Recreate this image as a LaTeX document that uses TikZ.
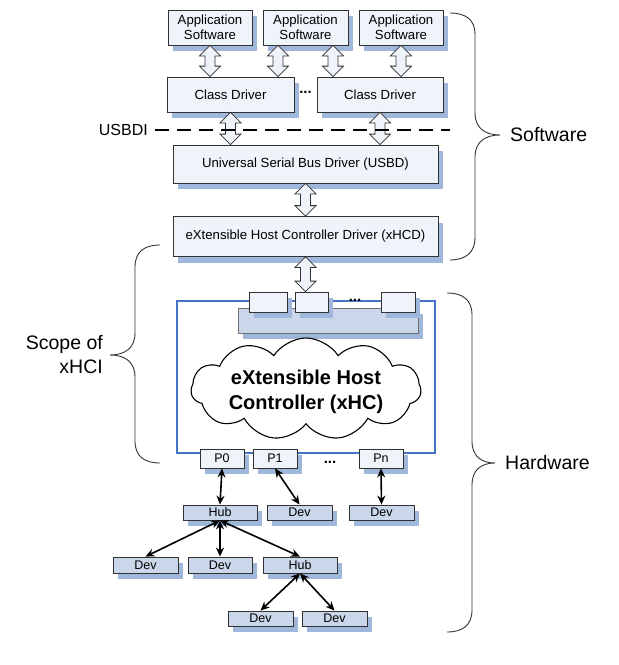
\documentclass[tikz,border=0pt]{standalone}
\usepackage{fontspec}
\setmainfont{Liberation Sans}
\usetikzlibrary{arrows.meta,shapes.symbols,shadows,calc}
\definecolor{boxc}{RGB}{239,243,250}
\definecolor{shd}{RGB}{160,183,220}
\definecolor{devc}{RGB}{202,215,234}
\definecolor{bord}{RGB}{50,50,50}
\definecolor{xblue}{RGB}{70,116,196}
\newcommand\hollowarr[2]{%
  \path[draw=bord,fill=boxc,line width=.8pt] let \p1=(#1), \p2=(#2) in
    (\x1,\y1) -- (\x1+10.5pt,\y1-10.5pt) -- (\x1+5pt,\y1-10.5pt) -- (\x1+5pt,\y2+10.5pt)
    -- (\x1+10.5pt,\y2+10.5pt) -- (\x1,\y2) -- (\x1-10.5pt,\y2+10.5pt) -- (\x1-5pt,\y2+10.5pt)
    -- (\x1-5pt,\y1-10.5pt) -- (\x1-10.5pt,\y1-10.5pt) -- cycle;}
\tikzset{
  shadowed/.style={drop shadow={shadow xshift=5pt,shadow yshift=-6pt,fill=shd,opacity=1,draw=none}},
  swbox/.style={rectangle,draw=bord,line width=.8pt,fill=boxc,shadowed,inner sep=0pt,
    font=\fontsize{13.2}{15}\selectfont,align=center},
  devbox/.style={rectangle,draw=bord,line width=.8pt,fill=devc,shadowed,inner sep=0pt,
    font=\fontsize{12.5}{14}\selectfont},
  portbox/.style={rectangle,draw=bord,line width=.8pt,fill=boxc,shadowed,inner sep=0pt,
    font=\fontsize{12.5}{14}\selectfont},
  link/.style={line width=1.6pt,{Stealth[length=9pt,width=8pt]}-{Stealth[length=9pt,width=8pt]}},
  bigtext/.style={font=\fontsize{19.5}{24}\selectfont,inner sep=0pt},
  bracestyle/.style={line width=.9pt,draw=black!80},
  dotsstyle/.style={font=\fontsize{15}{15}\selectfont\bfseries,inner sep=0pt},
}
\begin{document}
\begin{tikzpicture}[x=1pt,y=-1pt]
\useasboundingbox (0,0) rectangle (619,665);
% software boxes
\node[swbox,minimum width=84pt,minimum height=35pt] (app1) at (210,27.5) {Application\\Software};
\node[swbox,minimum width=85pt,minimum height=35pt] (app2) at (305.5,27.5) {Application\\Software};
\node[swbox,minimum width=84pt,minimum height=35pt] (app3) at (401,27.5) {Application\\Software};
\node[swbox,minimum width=127pt,minimum height=35pt] (cd1) at (230.5,94.5) {Class Driver};
\node[swbox,minimum width=126pt,minimum height=35pt] (cd2) at (380,94.5) {Class Driver};
\node[dotsstyle] (cddots) at (305.5,92) {...};
\node[swbox,minimum width=265pt,minimum height=38pt] (usbd) at (305.5,164) {Universal Serial Bus Driver (USBD)};
\node[swbox,minimum width=265pt,minimum height=40pt] (xhcd) at (305.5,236.5) {eXtensible Host Controller Driver (xHCD)};
% host controller
\node[draw=xblue,line width=2.5pt,minimum width=258pt,minimum height=152pt,inner sep=0pt] (xhcbox) at (306,377) {};
\node[rectangle,draw=bord!70,line width=.8pt,fill=devc,shadowed,minimum width=180pt,minimum height=25pt,inner sep=0pt] (bar) at (328,320.5) {};
\node[portbox,minimum width=38pt,minimum height=20pt] (pa) at (268,302) {};
\node[portbox,minimum width=33pt,minimum height=20pt] (pb) at (311.5,302) {};
\node[portbox,minimum width=34pt,minimum height=20pt] (pc) at (398,302) {};
\node[dotsstyle] (pdots) at (355,300) {...};
\node[cloud,cloud puffs=11,cloud puff arc=115,draw=black,line width=1.1pt,fill=white,
  minimum width=230pt,minimum height=102pt,inner sep=0pt] (xhc) at (306,389) {};
\node[font=\fontsize{20}{25}\selectfont\bfseries,align=center,inner sep=0pt] (xhctext) at (306,392) {eXtensible Host\\Controller (xHC)};
% root ports
\node[portbox,minimum width=44pt,minimum height=19pt] (p0) at (222,458.5) {P0};
\node[portbox,minimum width=44pt,minimum height=19pt] (p1) at (275,458.5) {P1};
\node[portbox,minimum width=44pt,minimum height=19pt] (pn) at (381,458.5) {Pn};
\node[dotsstyle] (rdots) at (330,462) {...};
% devices
\node[devbox,minimum width=74pt,minimum height=15pt] (hub1) at (220,512.5) {Hub};
\node[devbox,minimum width=65pt,minimum height=15pt] (dev1) at (299.5,512.5) {Dev};
\node[devbox,minimum width=65pt,minimum height=15pt] (dev2) at (381.5,512.5) {Dev};
\node[devbox,minimum width=65pt,minimum height=16pt] (deva) at (145.5,565) {Dev};
\node[devbox,minimum width=64pt,minimum height=16pt] (devb) at (220,565) {Dev};
\node[devbox,minimum width=74pt,minimum height=16pt] (hub2) at (300,565) {Hub};
\node[devbox,minimum width=65pt,minimum height=15pt] (devc) at (260.5,618.5) {Dev};
\node[devbox,minimum width=65pt,minimum height=15pt] (devd) at (334.5,618.5) {Dev};
% hollow arrows
\hollowarr{app1.south}{cd1.north}
\hollowarr{[xshift=-27.5pt]app2.south}{cd1.north}
\hollowarr{[xshift=27.5pt]app2.south}{cd2.north}
\hollowarr{app3.south}{cd2.north}
\hollowarr{cd1.south}{usbd.north}
\hollowarr{cd2.south}{usbd.north}
\hollowarr{usbd.south}{xhcd.north}
\hollowarr{xhcd.south}{pb.north}
% USBDI
\node[font=\fontsize{16}{18}\selectfont,anchor=east,inner sep=0pt] (usbdi) at (148,130) {USBDI};
\coordinate (usbdiend) at (450,130);
\draw[line width=2pt,dash pattern=on 14pt off 8pt] ([xshift=7pt]usbdi.east) -- (usbdiend);
% links
\draw[link] (p0.south) -- (hub1.north);
\draw[link] (p1.south) -- (dev1.north);
\draw[link] (pn.south) -- (dev2.north);
\draw[link] (hub1.south) -- (deva.north);
\draw[link] (hub1.south) -- (devb.north);
\draw[link] (hub1.south) -- (hub2.north);
\draw[link] (hub2.south) -- (devc.north);
\draw[link] (hub2.south) -- (devd.north);
% braces
\draw[bracestyle] (450,13) .. controls (466,13) and (475,20) .. (475,34) -- (475,113)
  .. controls (475,128) and (485,135) .. (500,135) .. controls (485,135) and (475,142) .. (475,157)
  -- (475,238) .. controls (475,252) and (466,260) .. (450,260);
\draw[bracestyle] (447,293) .. controls (463,293) and (472,300) .. (472,315) -- (472,441)
  .. controls (472,456) and (481,463) .. (495,463) .. controls (481,463) and (472,470) .. (472,485)
  -- (472,610) .. controls (472,625) and (463,632) .. (447,632);
\draw[bracestyle] (160,245) .. controls (144,245) and (135,252) .. (135,267) -- (135,333)
  .. controls (135,348) and (125,355) .. (110,355) .. controls (125,355) and (135,362) .. (135,377)
  -- (135,441) .. controls (135,456) and (144,463) .. (160,463);
\node[bigtext,anchor=west] (swlabel) at (510,135) {Software};
\node[bigtext,anchor=west] (hwlabel) at (505,463) {Hardware};
\node[bigtext,align=right,anchor=east] (scopelabel) at (103,355) {Scope of\\xHCI};
\end{tikzpicture}
\end{document}
